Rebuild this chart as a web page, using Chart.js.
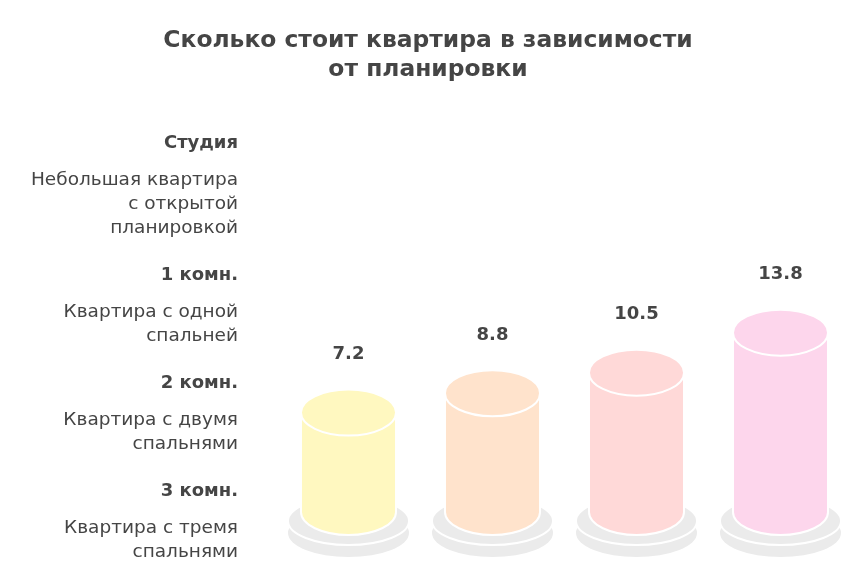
<!DOCTYPE html>
<html>
<head>
<meta charset="utf-8">
<script src="https://cdn.jsdelivr.net/npm/chart.js@4.4.1/dist/chart.umd.min.js"></script>
<style>
  html, body { margin: 0; padding: 0; background: #fff; }
  #wrap { width: 864px; height: 569px; }
</style>
</head>
<body>
<div id="wrap"><canvas id="priceChart" width="864" height="569"></canvas></div>
<script>
// Data (price, million rub)
const titleLines = ['Сколько стоит квартира в зависимости', 'от планировки'];
const categories = ['Студия', '1 комн.', '2 комн.', '3 комн.'];
const descriptions = [
    ['Небольшая квартира', 'с открытой', 'планировкой'],
    ['Квартира с одной', 'спальней'],
    ['Квартира с двумя', 'спальнями'],
    ['Квартира с тремя', 'спальнями']
];
const prices = [7.2, 8.8, 10.5, 13.8];
const colors = ['#fff8c0', '#ffe3cc', '#ffd9d8', '#fdd6ec'];

const TEXT = '#454545';
const FONT = '"DejaVu Sans", "Noto Sans", sans-serif';

function ellipse(ctx, cx, cy, rx, ry) {
    ctx.beginPath();
    ctx.ellipse(cx, cy, rx, ry, 0, 0, Math.PI * 2);
}

// cylinders on grey plates + value labels
const cylinderPlugin = {
    id: 'cylinders',
    afterDatasetsDraw(chart) {
        const ctx = chart.ctx;
        const meta = chart.getDatasetMeta(0);
        const bottom = chart.chartArea.bottom;
        const ry = 23;
        ctx.save();
        meta.data.forEach((bar, i) => {
            const cx = bar.x;
            const rx = bar.width / 2;
            const top = bar.y;

            // plate
            ctx.fillStyle = '#ebebeb';
            ctx.strokeStyle = '#ffffff';
            ctx.lineWidth = 2;
            ellipse(ctx, cx, bottom + 21, rx + 13, 24);
            ctx.fill();
            ellipse(ctx, cx, bottom + 9, rx + 13, 24);
            ctx.fill();
            ctx.stroke();

            // body
            ctx.fillStyle = colors[i];
            ctx.beginPath();
            ctx.moveTo(cx - rx, top);
            ctx.lineTo(cx - rx, bottom);
            ctx.ellipse(cx, bottom, rx, ry, 0, Math.PI, 0, true);
            ctx.lineTo(cx + rx, top);
            ctx.closePath();
            ctx.fill();
            ctx.stroke();

            // lid
            ellipse(ctx, cx, top, rx, ry);
            ctx.fill();
            ctx.stroke();

            // value
            ctx.fillStyle = TEXT;
            ctx.font = 'bold 18px ' + FONT;
            ctx.textAlign = 'center';
            ctx.textBaseline = 'middle';
            ctx.fillText(prices[i].toFixed(1), cx, top - 58);
        });
        ctx.restore();
    }
};

// title and category names with descriptions on the left
const textPlugin = {
    id: 'sideLabels',
    afterDraw(chart) {
        const ctx = chart.ctx;
        ctx.save();
        ctx.fillStyle = TEXT;
        ctx.textBaseline = 'middle';

        ctx.textAlign = 'center';
        ctx.font = 'bold 23.4px ' + FONT;
        titleLines.forEach((line, i) => ctx.fillText(line, 428, 41 + i * 29));

        const x = 238;
        let y = 143;
        ctx.textAlign = 'right';
        categories.forEach((cat, i) => {
            ctx.font = 'bold 18px ' + FONT;
            ctx.fillText(cat, x, y);
            let ly = y + 37;
            ctx.font = '18.5px ' + FONT;
            descriptions[i].forEach(line => {
                ctx.fillText(line, x, ly);
                ly += 24;
            });
            y = ly - 24 + 47;
        });
        ctx.restore();
    }
};

new Chart(document.getElementById('priceChart'), {
    type: 'bar',
    data: {
        labels: categories,
        datasets: [{
            data: prices,
            backgroundColor: 'rgba(0,0,0,0)',
            borderWidth: 0,
            barPercentage: 0.66,
            categoryPercentage: 1
        }]
    },
    options: {
        responsive: false,
        animation: false,
        layout: { padding: { left: 276.5, right: 11.5, top: 257.5, bottom: 57 } },
        plugins: {
            legend: { display: false },
            tooltip: { enabled: false },
            title: { display: false }
        },
        scales: {
            x: { display: false },
            y: { display: false, min: -1, max: 20 }
        }
    },
    plugins: [cylinderPlugin, textPlugin]
});
</script>
</body>
</html>
